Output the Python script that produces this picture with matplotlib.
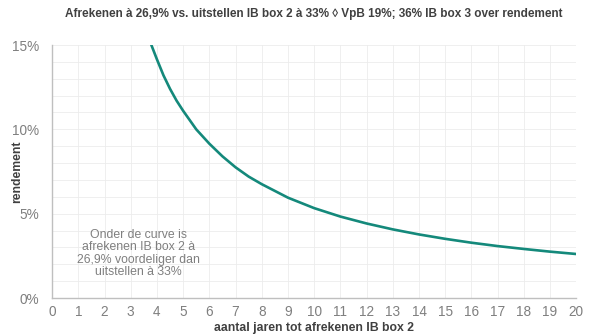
import numpy as np
import matplotlib
matplotlib.use("Agg")
import matplotlib.pyplot as plt
from matplotlib.ticker import MultipleLocator, FuncFormatter

plt.rcParams['font.family'] = ['Liberation Sans', 'DejaVu Sans']

# aflezingen van de curve (jaren -> rendement in %)
jaren = [3.6, 3.75, 4.0, 4.25, 4.5, 4.75, 5.0, 5.5, 6.0, 6.5, 7.0, 7.5, 8.0, 9.0,
         10.0, 11.0, 12.0, 13.0, 14.0, 15.0, 16.0, 17.0, 18.0, 19.0, 20.0]
rendement = [15.8, 15.15, 14.15, 13.2, 12.4, 11.7, 11.1, 10.0, 9.15, 8.4, 7.75, 7.2,
             6.75, 5.95, 5.33, 4.83, 4.42, 4.07, 3.77, 3.51, 3.28, 3.08, 2.91, 2.75, 2.61]

titel = "Afrekenen à 26,9% vs. uitstellen IB box 2 à 33% \u25ca VpB 19%; 36% IB box 3 over rendement"
notitie = "Onder de curve is\nafrekenen IB box 2 à\n26,9% voordeliger dan\nuitstellen à 33%"

fig = plt.figure(figsize=(5.99, 3.36), dpi=100)
ax = fig.add_axes([0.087, 0.113, 0.875, 0.753])

ax.plot(jaren, np.array(rendement) / 100, color='#14897b', lw=1.9, solid_capstyle='round')

ax.set_xlim(0, 20)
ax.set_ylim(0, 0.15)
ax.xaxis.set_major_locator(MultipleLocator(1))
ax.yaxis.set_major_locator(MultipleLocator(0.05))
ax.yaxis.set_minor_locator(MultipleLocator(0.01))
ax.yaxis.set_major_formatter(FuncFormatter(lambda v, p: f"{v*100:.0f}%"))

ax.grid(True, which='both', color='#ececec', lw=0.6)
ax.set_axisbelow(True)
for s in ['top', 'right']:
    ax.spines[s].set_visible(False)
for s in ['left', 'bottom']:
    ax.spines[s].set_color('#bfbfbf')
    ax.spines[s].set_linewidth(1.0)
ax.tick_params(which='both', length=0, colors='#7f7f7f', labelsize=9.8)
ax.tick_params(axis='y', pad=9)
ax.tick_params(axis='x', pad=5)

ax.set_title(titel, fontsize=8.5, fontweight='bold', color='#404040', pad=20)
ax.set_xlabel("aantal jaren tot afrekenen IB box 2", fontsize=8.8, fontweight='bold',
              color='#404040', labelpad=2)
ax.set_ylabel("rendement", fontsize=8.8, fontweight='bold', color='#404040')
ax.yaxis.set_label_coords(-0.056, 0.5)

ax.text(3.3, 0.0265, notitie, ha='center', va='center', fontsize=8.8, color='#7f7f7f',
        linespacing=1.05)

fig.savefig("out.png", dpi=100)
